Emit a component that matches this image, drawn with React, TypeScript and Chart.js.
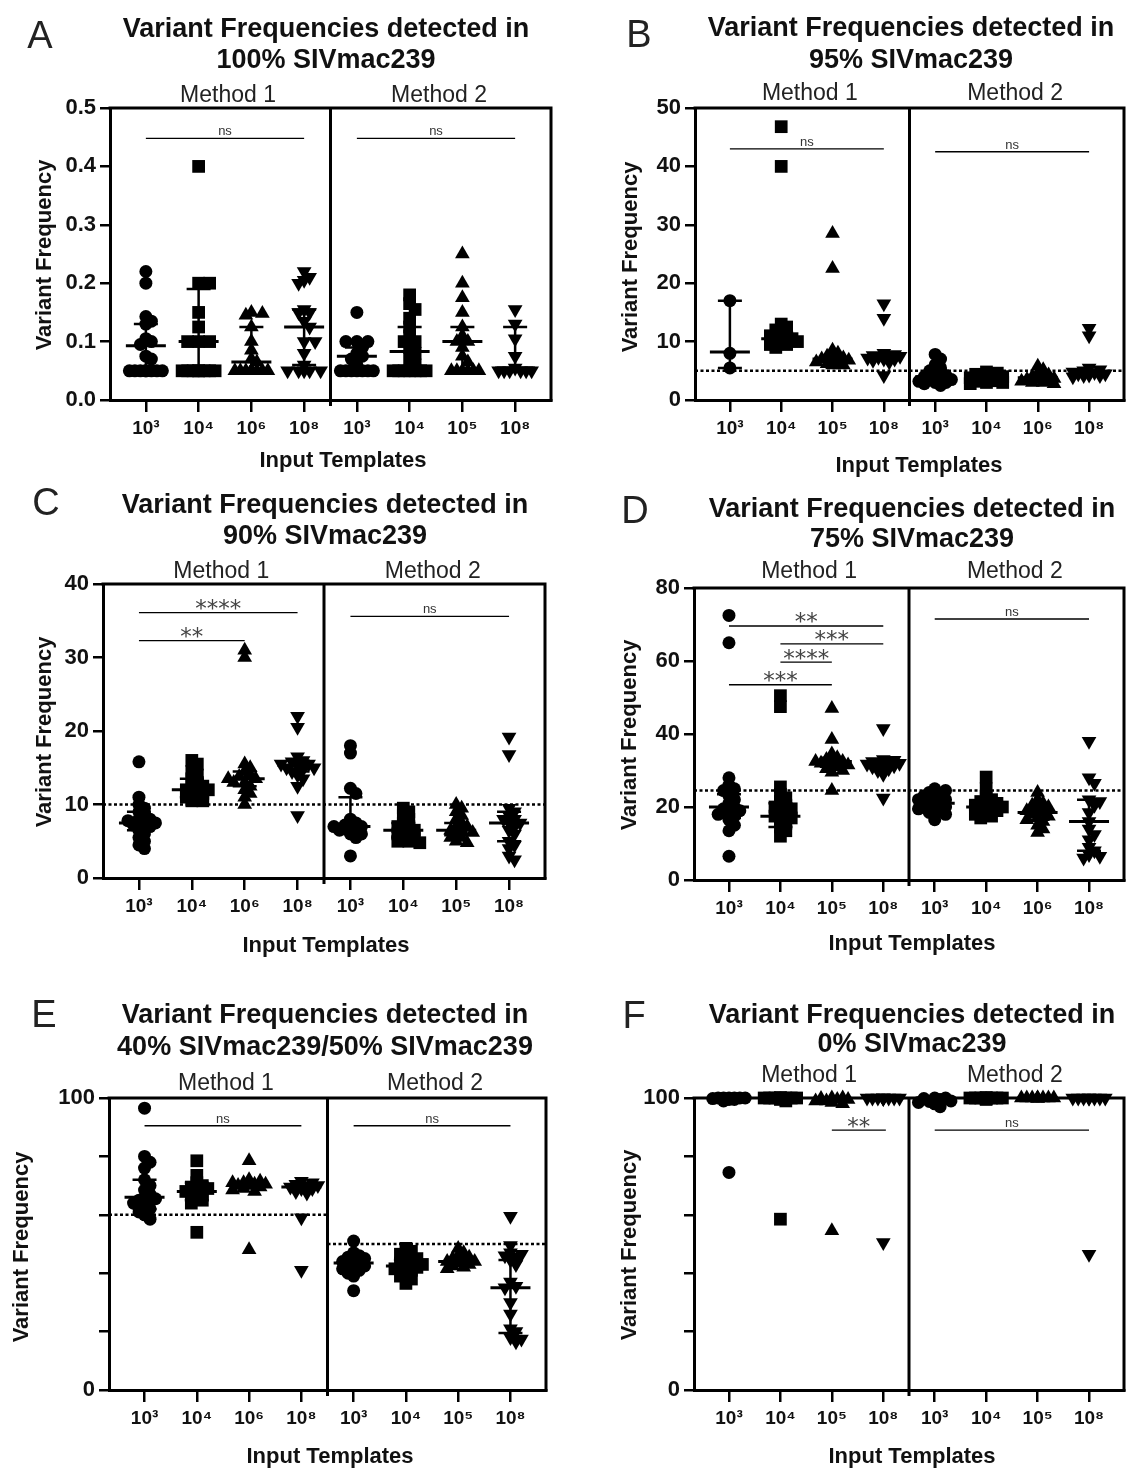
import React, { useEffect, useRef } from 'react';
import { Chart, registerables } from 'chart.js';

Chart.register(...registerables);

// ---------------- DATA ----------------
const labelsA = ['10³', '10⁴', '10⁶', '10⁸', '10³', '10⁴', '10⁵', '10⁸'];
const labelsB = ['10³', '10⁴', '10⁵', '10⁸', '10³', '10⁴', '10⁶', '10⁸'];
const labelsC = ['10³', '10⁴', '10⁶', '10⁸', '10³', '10⁴', '10⁵', '10⁸'];
const labelsD = ['10³', '10⁴', '10⁵', '10⁸', '10³', '10⁴', '10⁶', '10⁸'];
const labelsE = ['10³', '10⁴', '10⁶', '10⁸', '10³', '10⁴', '10⁵', '10⁸'];
const labelsF = ['10³', '10⁴', '10⁵', '10⁸', '10³', '10⁴', '10⁵', '10⁸'];

const valuesA: number[][] = [
  [0.22, 0.2, 0.143, 0.135, 0.13, 0.105, 0.1, 0.095, 0.075, 0.07, 0.05, 0.05, 0.05, 0.05, 0.05, 0.05, 0.05, 0.05],
  [0.4, 0.2, 0.2, 0.15, 0.125, 0.1, 0.1, 0.1, 0.05, 0.05, 0.05, 0.05, 0.05, 0.05, 0.05, 0.05],
  [0.15, 0.148, 0.145, 0.125, 0.1, 0.085, 0.07, 0.065, 0.05, 0.05, 0.05, 0.05, 0.05, 0.05, 0.05, 0.05, 0.05],
  [0.22, 0.21, 0.205, 0.2, 0.155, 0.15, 0.15, 0.135, 0.125, 0.1, 0.1, 0.08, 0.06, 0.05, 0.05, 0.05, 0.05, 0.05],
  [0.15, 0.1, 0.1, 0.1, 0.09, 0.08, 0.075, 0.07, 0.06, 0.05, 0.05, 0.05, 0.05, 0.05, 0.05, 0.05],
  [0.18, 0.165, 0.155, 0.14, 0.125, 0.11, 0.1, 0.1, 0.09, 0.08, 0.07, 0.06, 0.05, 0.05, 0.05, 0.05, 0.05, 0.05, 0.05],
  [0.25, 0.2, 0.175, 0.15, 0.125, 0.11, 0.1, 0.1, 0.09, 0.075, 0.065, 0.05, 0.05, 0.05, 0.05, 0.05, 0.05],
  [0.155, 0.13, 0.105, 0.075, 0.055, 0.05, 0.05, 0.05, 0.05, 0.05, 0.05],
];
const mediansA = [0.093, 0.1, 0.065, 0.125, 0.075, 0.083, 0.1, 0.055];
const lowA = [0.05, 0.05, 0.05, 0.06, 0.05, 0.05, 0.05, 0.05];
const highA = [0.13, 0.19, 0.125, 0.155, 0.09, 0.125, 0.125, 0.125];

const valuesB: number[][] = [
  [17, 8, 5.5],
  [46.8, 40, 13, 12.5, 12, 11.5, 11, 11, 10.5, 10.5, 10, 10, 9.5, 9.5, 9],
  [28.5, 22.5, 8.5, 8, 7.5, 7.2, 7, 7, 6.8, 6.5, 6.5, 6.2, 6, 6],
  [16.5, 14, 8, 7.8, 7.6, 7.5, 7.5, 7.3, 7.2, 7, 7, 6.8, 6.5, 4.2],
  [7.8, 7, 6, 5.5, 5, 4.5, 4.2, 4, 3.8, 3.5, 3.5, 3.2, 3, 3, 2.8, 2.5],
  [4.8, 4.6, 4.4, 4.2, 4, 4, 3.8, 3.8, 3.5, 3.5, 3.3, 3.2, 3, 3, 2.8],
  [5.8, 5.2, 4.6, 4.3, 4, 3.8, 3.7, 3.5, 3.5, 3.3, 3.2, 3, 3, 2.8],
  [12.3, 11, 5.5, 5.2, 5, 4.8, 4.7, 4.5, 4.5, 4.3, 4.2, 4.2, 4],
];
const mediansB = [8.2, 10.5, 7, 7.5, 4, 3.8, 3.8, 4.5];
const lowB = [5.5, 10, 6.5, 7, 3, 3.2, 3.3, 4.2];
const highB = [17, 11.5, 7.5, 8, 5, 4.2, 4.3, 5];

const valuesC: number[][] = [
  [15.8, 11, 10, 9.5, 9, 8.5, 8, 8, 7.8, 7.5, 7.5, 7.2, 7, 6.5, 6, 5.5, 5, 4.5, 4],
  [16, 15.5, 14.5, 14, 13.5, 13, 12.5, 12.5, 12, 12, 12, 11.5, 11.5, 11, 11, 10.5, 10.5],
  [31, 30, 15.5, 15, 14.5, 14, 13.8, 13.5, 13.5, 13, 13, 12.5, 12, 11.5, 11, 10],
  [22, 20.5, 16.5, 16, 15.8, 15.5, 15.5, 15.3, 15, 15, 14.8, 14.5, 14, 13.5, 12.5, 8.5],
  [18, 17, 12.2, 11.5, 8, 7.5, 7.2, 7, 7, 7, 6.5, 6.5, 6, 6, 5.5, 3],
  [9.5, 9, 8.5, 8, 7.5, 7, 7, 6.5, 6.5, 6, 6, 5.5, 5.5, 5, 5, 4.8],
  [10, 9.5, 9, 8.5, 8, 7.5, 7, 7, 6.5, 6.5, 6.2, 6, 5.5, 5.5, 5, 4.8],
  [19.2, 16.8, 9.5, 9, 8.5, 8, 8, 7.5, 7.5, 7, 6.5, 6, 5, 4.5, 4, 3, 2.5],
];
const mediansC = [7.5, 12, 13.5, 15.3, 7, 6.5, 6.5, 7.5];
const lowC = [6.5, 11, 12.5, 14.5, 6, 5.5, 5.8, 5];
const highC = [9, 13.5, 14.5, 16, 11, 7.5, 7.5, 9];

const valuesD: number[][] = [
  [72.5, 65, 28, 26, 25, 24.5, 23, 22, 21, 20, 19.5, 19, 18.5, 18, 17.5, 16.5, 15, 13.5, 6.5],
  [50.5, 47.5, 25.5, 23.5, 22.5, 21.5, 20.5, 20, 19.5, 19, 18, 17.5, 17, 16.5, 15.5, 14.5, 13.5, 12],
  [47, 38.5, 34.5, 33.5, 33, 32.5, 32.5, 32, 32, 31.5, 31, 30.5, 30, 29.5, 24.5],
  [41.5, 33, 32.8, 32.5, 32.3, 32, 32, 31.8, 31.5, 31.3, 31, 30.5, 30, 29, 22.5],
  [25, 24.5, 24, 23.5, 23, 22.5, 22, 22, 21.5, 21, 20.5, 20, 20, 19.5, 19, 18.5, 18, 16.5],
  [28.2, 25, 23, 22, 21.5, 21, 20.5, 20.5, 20, 20, 19.5, 19, 18.5, 18, 17.5, 17],
  [24, 22, 21, 20.5, 20, 19.5, 19, 18.5, 18, 17.5, 17, 16.5, 16, 15, 14, 13],
  [38, 28, 26.5, 22, 21.5, 20.5, 18.5, 16, 14, 12.5, 11, 9, 8, 7, 6.5, 6],
];
const mediansD = [20, 17.5, 32.5, 32, 21, 20, 18.5, 16];
const lowD = [17, 14.5, 31, 31, 19.5, 18.5, 16.5, 8];
const highD = [23.5, 21, 33.5, 32.8, 22.5, 21.5, 19.5, 22];

const valuesE: number[][] = [
  [96.5, 80, 78, 76, 72, 70, 68.5, 67, 66, 65.5, 65, 64.5, 64, 63, 62, 61, 60, 58.5],
  [78.5, 73.5, 71, 70, 69.5, 69, 68.5, 68, 67.5, 67, 66, 65, 64, 54],
  [78.5, 72, 71.5, 71, 71, 70.5, 70.5, 70, 70, 69.5, 69, 68.5, 68, 48],
  [71.5, 71, 70.5, 70, 70, 69.5, 69, 69, 68, 67.5, 59, 41],
  [51, 47, 46, 45.5, 45, 44.5, 44, 43.5, 43, 42.5, 42, 41.5, 41, 40, 39, 34],
  [48.5, 47.5, 46.5, 45.5, 45, 44, 43.5, 43, 42.5, 42, 41.5, 41, 40, 39, 38, 36.5],
  [48.5, 47, 46, 45.5, 45, 44.5, 44, 44, 43.5, 43, 42.5, 42, 41.5],
  [59.5, 49.5, 47, 46.5, 46, 45.5, 44.5, 43, 37, 35.5, 35, 30, 26, 21, 20, 18, 17.5, 16.5],
];
const mediansE = [66, 68, 70.5, 69.5, 43.5, 42.5, 44, 35];
const lowE = [62, 65, 69.5, 68, 41.5, 40.5, 43, 19.5];
const highE = [72, 71, 71, 70.5, 45, 44.5, 45, 44.5];

const valuesF: number[][] = [
  [100, 100, 100, 100, 100, 100, 99.8, 99.5, 99.5, 99, 74.5],
  [100, 100, 100, 100, 100, 100, 100, 100, 100, 100, 99.5, 99, 58.5],
  [100, 100, 99.8, 99.5, 99.5, 99, 99, 98.5, 98, 54.5],
  [100, 100, 100, 100, 100, 100, 100, 100, 100, 99.8, 50.5],
  [100, 100, 99.8, 99.5, 99, 98.8, 98.5, 98, 97],
  [100, 100, 100, 100, 100, 100, 100, 100, 100, 100, 99.5],
  [100, 100, 100, 100, 100, 100, 100, 100, 99.8],
  [100, 100, 100, 100, 100, 100, 100, 100, 46.5],
];
const mediansF = [100, 100, 99.5, 100, 99.5, 100, 100, 100];
const lowF = [99.5, 100, 99, 100, 98.5, 100, 100, 100];
const highF = [100, 100, 100, 100, 100, 100, 100, 100];

type Ref = { y: number; span: 'all' | 'm1' | 'm2' };
type Sig = { from: number; to: number; y: number; label: string };

const refsA: Ref[] = [];
const refsB: Ref[] = [{ y: 5, span: 'all' }];
const refsC: Ref[] = [{ y: 10, span: 'all' }];
const refsD: Ref[] = [{ y: 24.5, span: 'all' }];
const refsE: Ref[] = [{ y: 60, span: 'm1' }, { y: 50, span: 'm2' }];
const refsF: Ref[] = [];

const sigA: Sig[] = [
  { from: 1, to: 4, y: 0.448, label: 'ns' },
  { from: 5, to: 8, y: 0.448, label: 'ns' },
];
const sigB: Sig[] = [
  { from: 1, to: 4, y: 43, label: 'ns' },
  { from: 5, to: 8, y: 42.5, label: 'ns' },
];
const sigC: Sig[] = [
  { from: 1, to: 4, y: 36.1, label: '****' },
  { from: 1, to: 3, y: 32.3, label: '**' },
  { from: 5, to: 8, y: 35.6, label: 'ns' },
];
const sigD: Sig[] = [
  { from: 1, to: 4, y: 69.6, label: '**' },
  { from: 2, to: 4, y: 64.7, label: '***' },
  { from: 2, to: 3, y: 59.7, label: '****' },
  { from: 1, to: 3, y: 53.5, label: '***' },
  { from: 5, to: 8, y: 71.5, label: 'ns' },
];
const sigE: Sig[] = [
  { from: 1, to: 4, y: 90.5, label: 'ns' },
  { from: 5, to: 8, y: 90.5, label: 'ns' },
];
const sigF: Sig[] = [
  { from: 3, to: 4.05, y: 89, label: '**' },
  { from: 5, to: 8, y: 89, label: 'ns' },
];

// ---------------- LAYOUT ----------------
const FONT = '"Liberation Sans", Arial, Helvetica, sans-serif';
const X_MIN = 0.32;
const X_MAX = 8.68;
const SHAPES = ['circle', 'rect', 'triangle', 'triangle'];
const ROTATION = [0, 0, 0, 180];
const RADII = [6.5, 9, 8.5, 8.5];

type Panel = {
  letter: string;
  title: [string, string];
  canvas: { x: number; y: number; w: number; h: number };
  area: { l: number; r: number; t: number; b: number };
  yMin: number;
  yMax: number;
  yStep: number;
  yLabel: (v: number) => string;
  values: number[][];
  medians: number[];
  lows: number[];
  highs: number[];
  labels: string[];
  refs: Ref[];
  sig: Sig[];
  letterPos: { x: number; y: number };
  titleX: number;
  titleY: [number, number];
  methodY: number;
  xTitle: { x: number; y: number };
  yTitle: { x: number; y: number };
};

const fmt1 = (v: number) => v.toFixed(1);
const fmtInt = (v: number) => String(Math.round(v));
const fmt50 = (v: number) => (Math.round(v) % 50 === 0 ? String(Math.round(v)) : '');

const panels: Panel[] = [
  {
    letter: 'A', title: ['Variant Frequencies detected in', '100% SIVmac239'],
    canvas: { x: 0, y: 0, w: 566, h: 480 }, area: { l: 110, r: 551, t: 108, b: 400 },
    yMin: 0, yMax: 0.5, yStep: 0.1, yLabel: fmt1,
    values: valuesA, medians: mediansA, lows: lowA, highs: highA, labels: labelsA, refs: refsA, sig: sigA,
    letterPos: { x: 40, y: 48 }, titleX: 326, titleY: [37, 68], methodY: 102,
    xTitle: { x: 343, y: 467 }, yTitle: { x: 45, y: 255 },
  },
  {
    letter: 'B', title: ['Variant Frequencies detected in', '95% SIVmac239'],
    canvas: { x: 566, y: 0, w: 567, h: 480 }, area: { l: 695, r: 1131, t: 108, b: 400 },
    yMin: 0, yMax: 50, yStep: 10, yLabel: fmtInt,
    values: valuesB, medians: mediansB, lows: lowB, highs: highB, labels: labelsB, refs: refsB, sig: sigB,
    letterPos: { x: 639, y: 47 }, titleX: 911, titleY: [36, 68], methodY: 100,
    xTitle: { x: 919, y: 472 }, yTitle: { x: 631, y: 257 },
  },
  {
    letter: 'C', title: ['Variant Frequencies detected in', '90% SIVmac239'],
    canvas: { x: 0, y: 480, w: 566, h: 500 }, area: { l: 103, r: 545, t: 584, b: 878 },
    yMin: 0, yMax: 40, yStep: 10, yLabel: fmtInt,
    values: valuesC, medians: mediansC, lows: lowC, highs: highC, labels: labelsC, refs: refsC, sig: sigC,
    letterPos: { x: 46, y: 515 }, titleX: 325, titleY: [513, 544], methodY: 578,
    xTitle: { x: 326, y: 952 }, yTitle: { x: 45, y: 732 },
  },
  {
    letter: 'D', title: ['Variant Frequencies detected in', '75% SIVmac239'],
    canvas: { x: 566, y: 480, w: 567, h: 500 }, area: { l: 694, r: 1131, t: 588, b: 880 },
    yMin: 0, yMax: 80, yStep: 20, yLabel: fmtInt,
    values: valuesD, medians: mediansD, lows: lowD, highs: highD, labels: labelsD, refs: refsD, sig: sigD,
    letterPos: { x: 635, y: 523 }, titleX: 912, titleY: [517, 547], methodY: 578,
    xTitle: { x: 912, y: 950 }, yTitle: { x: 630, y: 735 },
  },
  {
    letter: 'E', title: ['Variant Frequencies detected in', '40% SIVmac239/50% SIVmac239'],
    canvas: { x: 0, y: 985, w: 566, h: 487 }, area: { l: 109, r: 546, t: 1098, b: 1390 },
    yMin: 0, yMax: 100, yStep: 10, yLabel: fmt50,
    values: valuesE, medians: mediansE, lows: lowE, highs: highE, labels: labelsE, refs: refsE, sig: sigE,
    letterPos: { x: 44, y: 1027 }, titleX: 325, titleY: [1023, 1055], methodY: 1090,
    xTitle: { x: 330, y: 1463 }, yTitle: { x: 22, y: 1247 },
  },
  {
    letter: 'F', title: ['Variant Frequencies detected in', '0% SIVmac239'],
    canvas: { x: 566, y: 985, w: 567, h: 487 }, area: { l: 694, r: 1131, t: 1098, b: 1390 },
    yMin: 0, yMax: 100, yStep: 10, yLabel: fmt50,
    values: valuesF, medians: mediansF, lows: lowF, highs: highF, labels: labelsF, refs: refsF, sig: sigF,
    letterPos: { x: 634, y: 1028 }, titleX: 912, titleY: [1023, 1052], methodY: 1082,
    xTitle: { x: 912, y: 1463 }, yTitle: { x: 630, y: 1245 },
  },
];

// Beeswarm horizontal spreading (layout only, in pixels)
function swarm(vals: number[], pxY: number, step = 5.5, minD = 6, maxOff = 20): number[] {
  const order = vals.map((_, i) => i).sort((a, b) => vals[b] - vals[a]);
  const placed: { x: number; y: number }[] = [];
  const out: number[] = new Array(vals.length).fill(0);
  for (const i of order) {
    const y = vals[i] * pxY;
    let best = 0;
    let bestScore = -Infinity;
    for (let k = 0; k < 30; k++) {
      const off = (k % 2 === 1 ? 1 : -1) * Math.ceil(k / 2) * step;
      if (Math.abs(off) > maxOff) break;
      let dmin = Infinity;
      for (const p of placed) {
        const d = Math.hypot(p.x - off, p.y - y);
        if (d < dmin) dmin = d;
      }
      if (dmin >= minD) { best = off; bestScore = Infinity; break; }
      if (dmin > bestScore) { bestScore = dmin; best = off; }
    }
    out[i] = best === 0 ? 0 : best;
    placed.push({ x: best, y });
  }
  return out;
}

function buildChart(canvas: HTMLCanvasElement, p: Panel) {
  const pxY = (p.area.b - p.area.t) / (p.yMax - p.yMin);
  const pxX = (p.area.r - p.area.l) / (X_MAX - X_MIN);
  const datasets = p.values.map((vals, g) => {
    const offs = swarm(vals, pxY);
    return {
      type: 'scatter' as const,
      data: vals.map((v, i) => ({ x: g + 1 + offs[i] / pxX, y: v })),
      pointStyle: SHAPES[g % 4],
      pointRotation: ROTATION[g % 4],
      pointRadius: RADII[g % 4],
      pointHoverRadius: RADII[g % 4],
      backgroundColor: '#000',
      borderColor: '#000',
      borderWidth: 0,
      showLine: false,
      clip: false as any,
    };
  });

  const ox = p.canvas.x;
  const oy = p.canvas.y;

  const deco = {
    id: 'deco' + p.letter,
    beforeDatasetsDraw(chart: any) {
      const { ctx, chartArea: a, scales } = chart;
      const xs = scales.x;
      const ys = scales.y;
      ctx.save();
      ctx.strokeStyle = '#000';
      ctx.lineWidth = 2.5;
      ctx.setLineDash([3, 2.5]);
      for (const r of p.refs) {
        const x0 = r.span === 'm2' ? xs.getPixelForValue(4.5) : a.left;
        const x1 = r.span === 'm1' ? xs.getPixelForValue(4.5) : a.right;
        const yy = ys.getPixelForValue(r.y);
        ctx.beginPath();
        ctx.moveTo(x0, yy);
        ctx.lineTo(x1, yy);
        ctx.stroke();
      }
      ctx.restore();
    },
    afterDatasetsDraw(chart: any) {
      const { ctx, scales } = chart;
      const xs = scales.x;
      const ys = scales.y;
      ctx.save();
      ctx.strokeStyle = '#000';
      ctx.lineCap = 'butt';
      p.medians.forEach((m, g) => {
        const cx = xs.getPixelForValue(g + 1);
        const ym = ys.getPixelForValue(m);
        const yl = ys.getPixelForValue(p.lows[g]);
        const yh = ys.getPixelForValue(p.highs[g]);
        ctx.lineWidth = 2.5;
        ctx.beginPath();
        ctx.moveTo(cx, yl); ctx.lineTo(cx, yh);
        ctx.moveTo(cx - 12, yl); ctx.lineTo(cx + 12, yl);
        ctx.moveTo(cx - 12, yh); ctx.lineTo(cx + 12, yh);
        ctx.stroke();
        ctx.lineWidth = 3;
        ctx.beginPath();
        ctx.moveTo(cx - 20, ym); ctx.lineTo(cx + 20, ym);
        ctx.stroke();
      });
      ctx.restore();
    },
    afterDraw(chart: any) {
      const { ctx, chartArea: a, scales } = chart;
      const xs = scales.x;
      const ys = scales.y;
      ctx.save();
      ctx.strokeStyle = '#000';
      ctx.lineWidth = 3;
      ctx.beginPath();
      ctx.moveTo(a.left - 1.5, a.top);
      ctx.lineTo(a.right, a.top);
      ctx.lineTo(a.right, a.bottom + 1.5);
      ctx.stroke();
      const xd = xs.getPixelForValue(4.5);
      ctx.beginPath();
      ctx.moveTo(xd, a.top);
      ctx.lineTo(xd, a.bottom + 6);
      ctx.stroke();

      for (const s of p.sig) {
        const x0 = xs.getPixelForValue(s.from);
        const x1 = xs.getPixelForValue(s.to);
        const yy = ys.getPixelForValue(s.y);
        ctx.strokeStyle = '#000';
        ctx.lineWidth = 1.4;
        ctx.beginPath();
        ctx.moveTo(x0, yy);
        ctx.lineTo(x1, yy);
        ctx.stroke();
        ctx.textAlign = 'center';
        ctx.textBaseline = 'alphabetic';
        if (s.label === 'ns') {
          ctx.fillStyle = '#333';
          ctx.font = `13px ${FONT}`;
          ctx.fillText(s.label, (x0 + x1) / 2, yy - 3);
        } else {
          ctx.fillStyle = '#444';
          ctx.font = `23px "DejaVu Sans", ${FONT}`;
          ctx.fillText(s.label, (x0 + x1) / 2, yy + 3.5);
        }
      }

      ctx.textAlign = 'center';
      ctx.textBaseline = 'alphabetic';
      ctx.fillStyle = '#222';
      ctx.font = `38px ${FONT}`;
      ctx.fillText(p.letter, p.letterPos.x - ox, p.letterPos.y - oy);

      ctx.fillStyle = '#111';
      ctx.font = `bold 27px ${FONT}`;
      ctx.fillText(p.title[0], p.titleX - ox, p.titleY[0] - oy);
      ctx.fillText(p.title[1], p.titleX - ox, p.titleY[1] - oy);

      ctx.fillStyle = '#222';
      ctx.font = `23px ${FONT}`;
      ctx.fillText('Method 1', xs.getPixelForValue(2.5) + 3, p.methodY - oy);
      ctx.fillText('Method 2', xs.getPixelForValue(6.5) + 3, p.methodY - oy);

      ctx.fillStyle = '#111';
      ctx.font = `bold 22px ${FONT}`;
      ctx.fillText('Input Templates', p.xTitle.x - ox, p.xTitle.y - oy);
      ctx.save();
      ctx.translate(p.yTitle.x - ox, p.yTitle.y - oy);
      ctx.rotate(-Math.PI / 2);
      ctx.textBaseline = 'middle';
      ctx.fillText('Variant Frequency', 0, 0);
      ctx.restore();

      ctx.restore();
    },
  };

  const yTicks: { value: number }[] = [];
  const n = Math.round((p.yMax - p.yMin) / p.yStep);
  for (let i = 0; i <= n; i++) yTicks.push({ value: +(p.yMin + i * p.yStep).toFixed(6) });

  return new Chart(canvas, {
    type: 'scatter',
    data: { datasets: datasets as any },
    options: {
      responsive: false,
      animation: false,
      devicePixelRatio: 1,
      events: [],
      layout: {
        padding: {
          left: 0,
          top: p.area.t - p.canvas.y,
          right: p.canvas.x + p.canvas.w - p.area.r,
          bottom: 0,
        },
      },
      plugins: {
        legend: { display: false },
        tooltip: { enabled: false },
        title: { display: false },
      },
      scales: {
        x: {
          type: 'linear',
          min: X_MIN,
          max: X_MAX,
          afterBuildTicks: (s: any) => {
            s.ticks = p.labels.map((_, i) => ({ value: i + 1 }));
          },
          afterFit: (s: any) => {
            s.height = p.canvas.y + p.canvas.h - p.area.b;
          },
          ticks: {
            autoSkip: false,
            maxRotation: 0,
            minRotation: 0,
            padding: 5,
            color: '#111',
            font: { family: FONT, size: 19, weight: 'bold' },
            callback: (_v: any, i: number) => p.labels[i],
          },
          grid: {
            display: true,
            drawOnChartArea: false,
            drawTicks: true,
            tickLength: 12,
            tickWidth: 2.5,
            lineWidth: 2.5,
            tickColor: '#000',
            color: '#000',
          },
          border: { display: true, color: '#000', width: 3 },
        },
        y: {
          type: 'linear',
          min: p.yMin,
          max: p.yMax,
          afterBuildTicks: (s: any) => {
            s.ticks = yTicks.map((t) => ({ value: t.value }));
          },
          afterFit: (s: any) => {
            s.width = p.area.l - p.canvas.x;
          },
          ticks: {
            padding: 4,
            color: '#111',
            font: { family: FONT, size: 22, weight: 'bold' },
            callback: (v: any) => p.yLabel(Number(v)),
          },
          grid: {
            display: true,
            drawOnChartArea: false,
            drawTicks: true,
            tickLength: 10,
            tickWidth: 2.5,
            lineWidth: 2.5,
            tickColor: '#000',
            color: '#000',
          },
          border: { display: true, color: '#000', width: 3 },
        },
      },
    } as any,
    plugins: [deco],
  });
}

function PanelChart({ p }: { p: Panel }) {
  const ref = useRef<HTMLCanvasElement | null>(null);
  useEffect(() => {
    if (!ref.current) return;
    const chart = buildChart(ref.current, p);
    return () => chart.destroy();
  }, [p]);
  return (
    <canvas
      ref={ref}
      width={p.canvas.w}
      height={p.canvas.h}
      style={{ position: 'absolute', left: p.canvas.x, top: p.canvas.y, width: p.canvas.w, height: p.canvas.h }}
    />
  );
}

export default function App() {
  return (
    <div style={{ position: 'absolute', left: 0, top: 0, width: 1133, height: 1472, background: '#fff', overflow: 'hidden' }}>
      {panels.map((p) => (
        <PanelChart key={p.letter} p={p} />
      ))}
    </div>
  );
}
